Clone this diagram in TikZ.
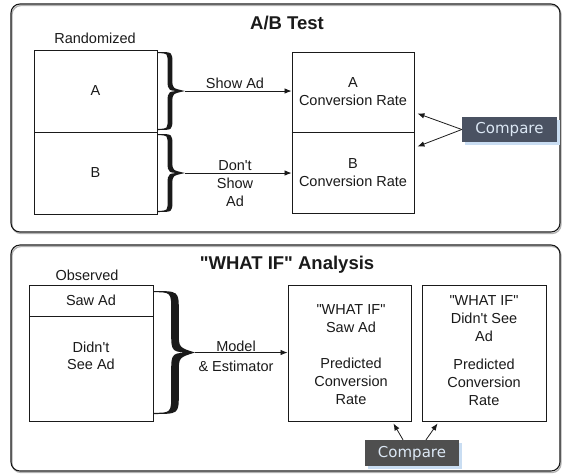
\documentclass[tikz,border=0pt]{standalone}
\usepackage{fontspec}
\setmainfont{Liberation Sans}[Ligatures=TeXOff]
\newfontfamily\cmpfont{DejaVu Sans}
\usetikzlibrary{arrows.meta,calc}
\definecolor{ink}{HTML}{1A1A1A}
\definecolor{slate}{HTML}{4A5262}
\definecolor{cmpgray}{HTML}{4F4F4F}
\definecolor{cmptext}{HTML}{DCE8F5}
\definecolor{glow}{HTML}{C9DDF2}
\newcommand\mybrace[7]{% x0, yTop, yBottom, a, w, h, r
  \pgfmathsetmacro\bM{(#2+#3)/2}
  \fill[ink] (#1,#2) .. controls (#1+#4+#6,#2) .. (#1+#4+#6,#2+#7)
    -- (#1+#4+#6,\bM-#7) .. controls (#1+#4+#6,\bM-0.25*#7) .. (#1+#5,\bM)
    .. controls (#1+#4+#6,\bM+0.25*#7) .. (#1+#4+#6,\bM+#7)
    -- (#1+#4+#6,#3-#7) .. controls (#1+#4+#6,#3) .. (#1,#3)
    -- (#1,#3-1.2) .. controls (#1+#4-#6,#3-1.2) .. (#1+#4-#6,#3-#7)
    -- (#1+#4-#6,\bM+#7) .. controls (#1+#4-#6,\bM) .. (#1+#5,\bM)
    .. controls (#1+#4-#6,\bM) .. (#1+#4-#6,\bM-#7)
    -- (#1+#4-#6,#2+#7) .. controls (#1+#4-#6,#2+1.2) .. (#1,#2+1.2) -- cycle;
}
\begin{document}
\begin{tikzpicture}[x=1pt,y=-1pt,
  txt/.style={font=\fontsize{14.5}{18}\selectfont, text=ink, inner sep=0pt, align=center},
  ttl/.style={font=\bfseries\fontsize{18.5}{22}\selectfont, text=ink, inner sep=0pt},
  box/.style={draw=ink, line width=0.9pt, inner sep=0pt, fill=white, font=\fontsize{14.5}{18}\selectfont, text=ink, align=center},
  panel/.style={draw=ink, line width=1.1pt, rounded corners=9pt},
  panelshadow/.style={draw=black!30, line width=1.3pt, rounded corners=9pt},
  arr/.style={draw=ink, line width=0.8pt, -{Latex[length=7pt,width=5.5pt]}},
  cmp/.style={font=\cmpfont\fontsize{15}{18}\selectfont, text=cmptext, inner sep=0pt}
]
\useasboundingbox (0,0) rectangle (564,475);

% panels
\draw[panelshadow] (12,5.5) rectangle (561,233.5);
\draw[panel] (11,4) rectangle (560,232);
\draw[panelshadow] (12,246.5) rectangle (561,472.5);
\draw[panel] (11,245) rectangle (560,471);

% ---------- A/B test ----------
\node[ttl, anchor=base] (ttlA) at (287,29) {A/B Test};
\node[txt, anchor=base] (rand) at (95,43) {Randomized};
\node[box, minimum width=123pt, minimum height=82pt] (gA) at (95.5,91) {A};
\node[box, minimum width=123pt, minimum height=82pt] (gB) at (95.5,173) {B};

\mybrace{158}{52}{130}{12}{27}{2.4}{11}
\mybrace{158}{134}{212}{12}{27}{2.4}{11}
\coordinate (tA) at (185,91);
\coordinate (tB) at (185,173);

\node[box, minimum width=122pt, minimum height=80pt] (rA) at (353,92) {A\\Conversion Rate};
\node[box, minimum width=122pt, minimum height=81pt] (rB) at (353,172.5) {B\\Conversion Rate};
\draw[ink, line width=1.8pt] (rA.south west) -- (rA.south east);

\draw[arr] (tA) -- (rA.west |- tA);
\draw[arr] (tB) -- (rB.west |- tB);
\node[txt, anchor=base] (lShow) at (235,88) {Show Ad};
\node[txt] (lDont) at (235,184) {Don't\\Show\\Ad};

\fill[glow] (464.5,120) rectangle (559.5,145);
\node[cmp, fill=slate, minimum width=95pt, minimum height=25pt] (cA) at (509.5,129.5) {Compare};
\draw[arr] (cA.west) -- ([xshift=3pt,yshift=19pt]rA.south east);
\draw[arr] (cA.west) -- ([xshift=3pt,yshift=-15pt]rB.north east);

% ---------- WHAT IF ----------
\node[ttl, anchor=base] (ttlB) at (287,269) {"WHAT IF" Analysis};
\node[txt, anchor=base] (obs) at (87,280) {Observed};
\node[box, minimum width=124pt, minimum height=31pt] (saw) at (91,300.5) {Saw Ad};
\node[box, minimum width=124pt, minimum height=105pt] (nsee) at (91,368.5) {};
\node[txt] (nseeT) at (91,355.5) {Didn't\\[-1pt]See Ad};

\mybrace{153}{291}{414}{22}{42}{3.8}{20}
\coordinate (tO) at (195,352.5);

\node[box, minimum width=123pt, minimum height=136pt] (w1) at (349.5,353) {};
\node[txt] (w1T) at (351,355) {"WHAT IF"\\Saw Ad\\[18pt]Predicted\\Conversion\\Rate};
\node[box, minimum width=124pt, minimum height=136pt] (w2) at (484,353) {};
\node[txt] (w2T) at (484,351) {"WHAT IF"\\Didn't See\\Ad\\[10pt]Predicted\\Conversion\\Rate};

\draw[arr] (tO) -- (w1.west |- tO);
\node[txt, anchor=base] (mdl) at (236,351) {Model};
\node[txt, anchor=base] (est) at (236,371) {\& Estimator};

\fill[glow] (367.5,443) rectangle (461.5,469);
\node[cmp, fill=cmpgray, minimum width=94pt, minimum height=26pt] (cB) at (412,453) {Compare};
\draw[arr] ([xshift=-9pt]cB.north) -- ([xshift=-18pt,yshift=-2pt]w1.south east);
\draw[arr] ([xshift=14pt]cB.north) -- ([xshift=16pt,yshift=-2pt]w2.south west);
\end{tikzpicture}
\end{document}
